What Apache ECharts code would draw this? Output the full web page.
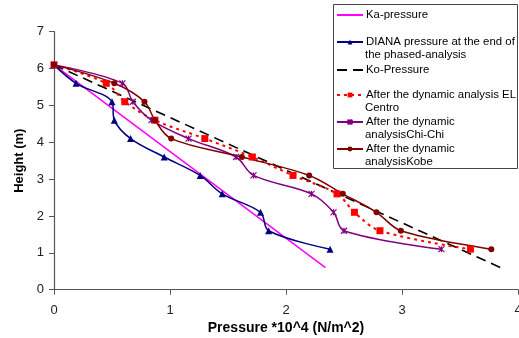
<!DOCTYPE html>
<html>
<head>
<meta charset="utf-8">
<script src="https://cdn.jsdelivr.net/npm/echarts@6/dist/echarts.min.js"></script>
<style>
html,body{margin:0;padding:0;background:#fff;}
#chart{width:519px;height:338px;}
</style>
</head>
<body>
<div id="chart"></div>
<script>
// Heights (m) shared by the analysis series
var heights = [6.1, 5.6, 5.1, 4.6, 4.1, 3.6, 3.1, 2.6, 2.1, 1.6, 1.1];
// Pressure *10^4 (N/m^2)
var dianaX    = [0, 0.19, 0.50, 0.52, 0.66, 0.95, 1.26, 1.45, 1.78, 1.85, 2.38];
var elCentroX = [0, 0.45, 0.61, 0.87, 1.30, 1.71, 2.06, 2.44, 2.59, 2.81, 3.59];
var chiChiX   = [0, 0.59, 0.68, 0.84, 1.16, 1.57, 1.72, 2.22, 2.41, 2.50, 3.34];
var kobeX     = [0, 0.52, 0.78, 0.87, 1.01, 1.62, 2.20, 2.49, 2.78, 2.99, 3.77];
var kaX = [0, 2.34], kaY = [6.1, 0.6];
var koX = [0, 3.85], koY = [6.1, 0.6];
var seriesNames = [
  'Ka-pressure',
  'DIANA pressure at the end of the phased-analysis',
  'Ko-Pressure',
  'After the dynamic analysis EL Centro',
  'After the dynamic analysisChi-Chi',
  'After the dynamic analysisKobe'
];
var legendFirstLines = ['Ka-pressure', 'DIANA pressure at the end of', 'Ko-Pressure',
  'After the dynamic analysis EL', 'After the dynamic', 'After the dynamic'];
var legendSecondLines = ['', 'the phased-analysis', '', 'Centro', 'analysisChi-Chi', 'analysisKobe'];
var xTicks = [0, 1, 2, 3, 4];
var yTicks = [0, 1, 2, 3, 4, 5, 6, 7];

function pairs(xs, ys) { return xs.map(function (x, i) { return [x, ys[i]]; }); }

var FONT = 'Arial, "Liberation Sans", sans-serif';
var legendRowY = [15, 42, 70, 95, 122, 149];
var noMarker = [true, false, true, false, false, false];
var legends = seriesNames.map(function (n, i) {
  var lg = {
    data: [n], left: 336, top: legendRowY[i] - 7, padding: 0,
    itemWidth: 26, itemHeight: 6, itemGap: 0, selectedMode: false,
    formatter: function () { return legendFirstLines[i]; },
    textStyle: { fontFamily: FONT, fontSize: 11.4, color: '#000', lineHeight: 14, padding: [0, 0, 0, -2] }
  };
  if (noMarker[i]) lg.itemStyle = { opacity: 0 };
  return lg;
});
var graphics = [{
  type: 'rect', shape: { x: 333.5, y: 4.5, width: 184, height: 164 },
  style: { fill: '#fff', stroke: '#444', lineWidth: 1 }, z: -1
}];
legendSecondLines.forEach(function (t, i) {
  if (!t) return;
  graphics.push({
    type: 'text', left: 365, top: legendRowY[i] + 13 - 7,
    style: { text: t, font: '11.4px ' + FONT, fill: '#000', lineHeight: 14 }
  });
});

var chiPath = 'path://M0,0L10,10M10,0L0,10M5,0L5,10';
var chart = echarts.init(document.getElementById('chart'), null, { renderer: 'canvas' });
chart.setOption({
  animation: false,
  backgroundColor: '#fff',
  graphic: graphics,
  legend: legends,
  grid: { left: 54, right: 1, top: 31.7, bottom: 48.3, containLabel: false, outerBoundsMode: 'none' },
  xAxis: {
    type: 'value', min: 0, max: 4, interval: 1,
    name: 'Pressure *10^4 (N/m^2)', nameLocation: 'middle', nameGap: 27,
    nameTextStyle: { fontFamily: FONT, fontSize: 14, fontWeight: 'bold', color: '#000' },
    axisLine: { lineStyle: { color: '#555', width: 1.2 } },
    axisTick: { show: true, inside: false, length: 5, lineStyle: { color: '#555' } },
    axisLabel: { margin: 14, fontFamily: FONT, fontSize: 13, color: '#222',
      formatter: function (v) { return xTicks.indexOf(v) >= 0 ? String(v) : ''; } },
    splitLine: { show: false }
  },
  yAxis: {
    type: 'value', min: 0, max: 7, interval: 1,
    name: 'Height (m)', nameLocation: 'middle', nameGap: 23,
    nameTextStyle: { fontFamily: FONT, fontSize: 13, fontWeight: 'bold', color: '#000' },
    axisLine: { show: true, lineStyle: { color: '#555', width: 1.2 } },
    axisTick: { show: true, inside: false, length: 5, lineStyle: { color: '#555' } },
    axisLabel: { margin: 10, fontFamily: FONT, fontSize: 13, color: '#222',
      formatter: function (v) { return yTicks.indexOf(v) >= 0 ? String(v) : ''; } },
    splitLine: { show: false }
  },
  series: [
    { name: seriesNames[0], type: 'line', data: pairs(kaX, kaY), showSymbol: false, symbol: 'none',
      lineStyle: { color: '#FF00FF', width: 1.5 }, itemStyle: { color: '#FF00FF' } },
    { name: seriesNames[1], type: 'line', data: pairs(dianaX, heights), smooth: 0.35,
      symbol: 'triangle', symbolSize: 7,
      lineStyle: { color: '#000080', width: 1.5 }, itemStyle: { color: '#000080' } },
    { name: seriesNames[2], type: 'line', data: pairs(koX, koY), symbol: 'none',
      lineStyle: { color: '#000', width: 1.6, type: [10, 6] }, itemStyle: { color: '#000' } },
    { name: seriesNames[3], type: 'line', data: pairs(elCentroX, heights), smooth: 0.35,
      symbol: 'rect', symbolSize: 7,
      lineStyle: { color: '#FF0000', width: 2, type: [3, 4] }, itemStyle: { color: '#FF0000' } },
    { name: seriesNames[4], type: 'line', data: pairs(chiChiX, heights), smooth: 0.35,
      symbol: chiPath, symbolSize: 6,
      lineStyle: { color: '#800080', width: 1.5 },
      itemStyle: { color: '#800080', borderColor: '#800080', borderWidth: 1.2 } },
    { name: seriesNames[5], type: 'line', data: pairs(kobeX, heights), smooth: 0.35,
      symbol: 'circle', symbolSize: 6,
      lineStyle: { color: '#800000', width: 1.5 }, itemStyle: { color: '#800000' } }
  ]
});
</script>
</body>
</html>
